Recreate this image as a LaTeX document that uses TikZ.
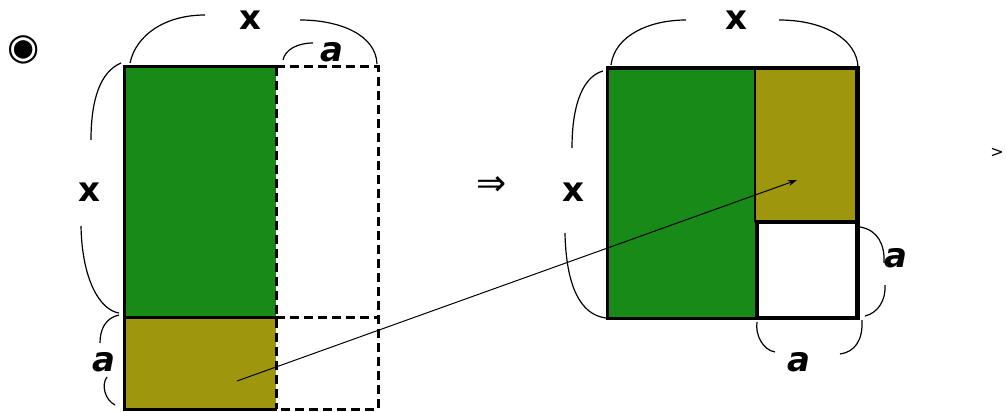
\documentclass[tikz,border=0pt]{standalone}
\usepackage{fontspec}
\setmainfont{DejaVu Sans}
\newfontfamily\symfont{DejaVu Sans}
\usetikzlibrary{arrows.meta}
\definecolor{fgreen}{RGB}{24,138,24}
\definecolor{folive}{RGB}{158,150,12}
\begin{document}
\begin{tikzpicture}[x=1pt,y=-1pt,
  lbl/.style={inner sep=0pt,font=\bfseries\fontsize{34}{34}\selectfont},
  lbla/.style={inner sep=0pt,font=\bfseries\itshape\fontsize{34}{34}\selectfont},
  brc/.style={line width=1.2pt},
  edge/.style={line width=3pt},
  dashedge/.style={line width=3pt,dash pattern=on 9pt off 5pt},
  conn/.style={line width=1pt,-{Stealth[length=9pt,width=6pt]}}]
\useasboundingbox (0,0) rectangle (1006,412);
% left figure
\fill[fgreen] (124,67) rectangle (276,317);
\fill[folive] (124,317) rectangle (276,409);
\draw[dashedge] (276,67) -- (378,67) -- (378,409) -- (276,409);
\draw[dashedge] (276,317) -- (378,317);
\draw[dashedge] (276,67) -- (276,409);
\draw[edge] (277,67) -- (124,67) -- (124,409) -- (277,409);
\draw[edge] (124,317) -- (276,317);
% right figure
\fill[fgreen] (607,68) rectangle (755,318);
\fill[folive] (755,68) rectangle (857,222);
\draw[edge] (607,68) rectangle (857,318);
\draw[line width=2pt] (755,68) -- (755,222);
\draw[line width=4pt, fill=white] (757,222) rectangle (857,318);
\draw[line width=5pt] (857,66.5) -- (857,319.5);
% braces, left figure
\draw[brc] (130,63) .. controls (136,35) and (165,15) .. (205,15);
\draw[brc] (300,20) .. controls (340,20) and (376,35) .. (377,64);
\draw[brc] (283,60) .. controls (285,50) and (297,43) .. (313,43);
\draw[brc] (121,63) .. controls (100,72) and (91,100) .. (91,140);
\draw[brc] (81,226) .. controls (82,280) and (100,310) .. (119,313);
\draw[brc] (119,315) .. controls (105,318) and (100,330) .. (100,343);
\draw[brc] (107,377) .. controls (101,385) and (105,400) .. (115,405);
% braces, right figure
\draw[brc] (611,65) .. controls (615,35) and (650,20) .. (686,20);
\draw[brc] (779,20) .. controls (825,20) and (857,40) .. (858,67);
\draw[brc] (603,71) .. controls (585,76) and (572,100) .. (572,148);
\draw[brc] (565,233) .. controls (566,285) and (580,315) .. (606,318);
\draw[brc] (860,227) .. controls (878,230) and (885,245) .. (884,263);
\draw[brc] (885,285) .. controls (886,300) and (878,313) .. (865,316);
\draw[brc] (757,322) .. controls (755,335) and (763,350) .. (775,352);
\draw[brc] (840,354) .. controls (855,352) and (863,340) .. (862,320);
% labels
\node[inner sep=0pt,font=\symfont\fontsize{37}{37}\selectfont] (bullet) at (24,50) {◉};
\node[lbl] (x1) at (250,20) {x};
\node[lbla] (a1) at (332,52) {a};
\node[lbl] (x2) at (89,192) {x};
\node[lbla] (a2) at (104,362) {a};
\node[inner sep=0pt,font=\symfont\fontsize{36}{36}\selectfont] (impl) at (492,186) {⇒};
\node[lbl] (x3) at (736,20) {x};
\node[lbl] (x4) at (573,192) {x};
\node[lbla] (a3) at (896,258) {a};
\node[lbla] (a4) at (799,362) {a};
\node[inner sep=0pt,font=\fontsize{16}{16}\selectfont] (gt) at (997,153) {>};
% arrow
\coordinate (s) at (237,381);
\coordinate (e) at (797,180);
\draw[conn] (s) -- (e);
\end{tikzpicture}
\end{document}
